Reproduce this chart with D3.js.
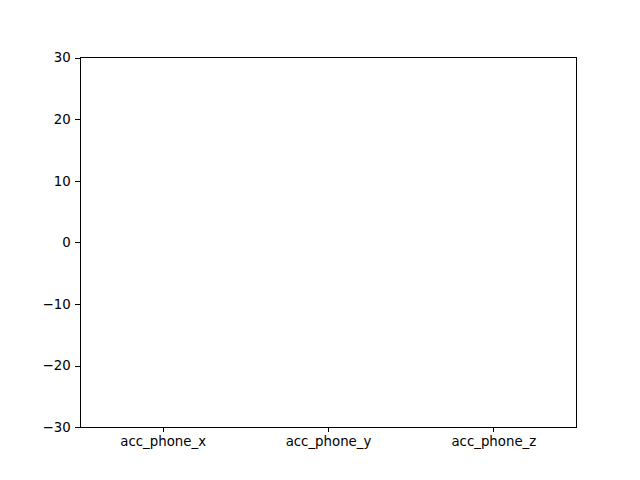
<!DOCTYPE html>
<html>
<head>
<meta charset="utf-8">
<script src="https://cdn.jsdelivr.net/npm/d3@7"></script>
<style>
  html, body { margin: 0; padding: 0; background: #fff; }
  svg { display: block; }
  text { font-family: "DejaVu Sans", sans-serif; font-size: 13.33px; fill: #000; }
</style>
</head>
<body>
<svg id="chart" width="640" height="480"></svg>
<script>
// Data (the reference shows empty boxplots — no visible values)
const categories = ["acc_phone_x", "acc_phone_y", "acc_phone_z"];
const acc_phone_x = [];
const acc_phone_y = [];
const acc_phone_z = [];
const seriesValues = [acc_phone_x, acc_phone_y, acc_phone_z];
const yTicks = [-30, -20, -10, 0, 10, 20, 30];

const W = 640, H = 480;
const margin = { left: 80, right: W - 576, top: 57.6, bottom: H - 427.2 };
const svg = d3.select("#chart");
svg.append("rect").attr("width", W).attr("height", H).attr("fill", "#fff");

const x = d3.scaleLinear().domain([0.5, 3.5]).range([margin.left, W - margin.right]);
const y = d3.scaleLinear().domain([-30, 30]).range([H - margin.bottom, margin.top]);

const fmt = d => (d < 0 ? "\u2212" + Math.abs(d) : String(d));

// Boxes (drawn from data; empty series draw nothing)
const g = svg.append("g");
seriesValues.forEach((vals, i) => {
  if (!vals.length) return;
  const s = vals.slice().sort(d3.ascending);
  const q1 = d3.quantile(s, 0.25), q2 = d3.quantile(s, 0.5), q3 = d3.quantile(s, 0.75);
  const cx = x(i + 1), hw = (x(1.25) - x(1));
  g.append("rect").attr("x", cx - hw).attr("width", 2 * hw)
    .attr("y", y(q3)).attr("height", y(q1) - y(q3))
    .attr("fill", "none").attr("stroke", "#000");
  g.append("line").attr("x1", cx - hw).attr("x2", cx + hw)
    .attr("y1", y(q2)).attr("y2", y(q2)).attr("stroke", "#ff7f0e");
});

// Axes
const xAxis = d3.axisBottom(x).tickValues([1, 2, 3]).tickFormat((d, i) => categories[i])
  .tickSize(4.67).tickPadding(4.67);
const yAxis = d3.axisLeft(y).tickValues(yTicks).tickFormat(fmt)
  .tickSize(4.67).tickPadding(4.67);

const gx = svg.append("g").attr("transform", `translate(0,${H - margin.bottom})`).call(xAxis);
const gy = svg.append("g").attr("transform", `translate(${margin.left},0)`).call(yAxis);
[gx, gy].forEach(a => {
  a.select(".domain").remove();
  a.selectAll(".tick line").attr("stroke", "#000").attr("stroke-width", 1).attr("shape-rendering", "crispEdges");
  a.selectAll(".tick text").attr("font-family", "DejaVu Sans, sans-serif").attr("font-size", 13.33).attr("fill", "#000");
});

// Frame
svg.append("rect")
  .attr("x", margin.left).attr("y", margin.top)
  .attr("width", W - margin.right - margin.left)
  .attr("height", H - margin.bottom - margin.top)
  .attr("fill", "none").attr("stroke", "#000").attr("stroke-width", 1)
  .attr("shape-rendering", "crispEdges");
</script>
</body>
</html>
